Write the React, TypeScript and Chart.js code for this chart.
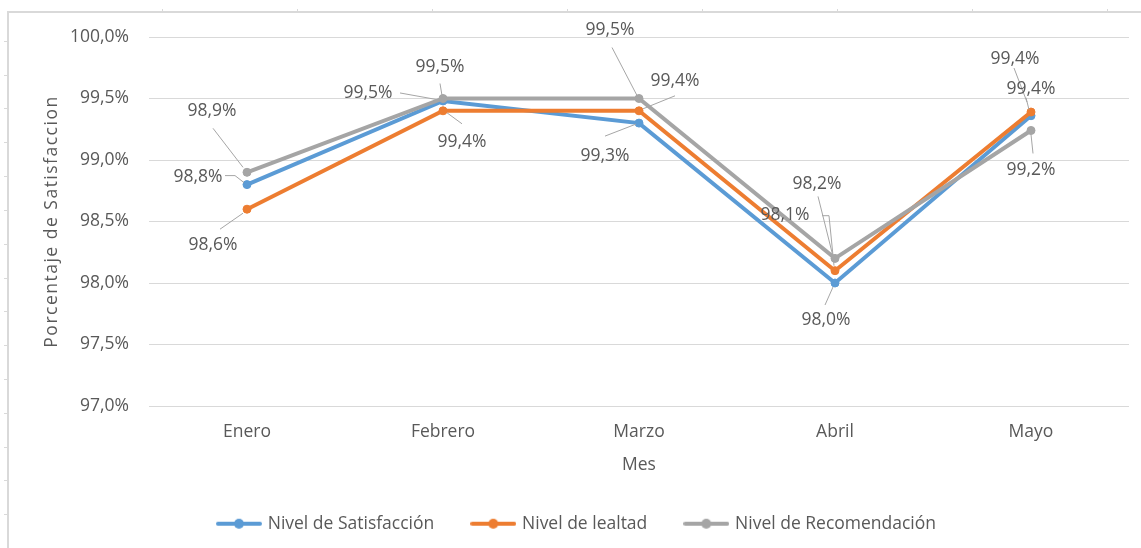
import React, { useEffect, useRef } from "react";
import { Chart, registerables } from "chart.js";

Chart.register(...registerables);

const months = ["Enero", "Febrero", "Marzo", "Abril", "Mayo"];
const seriesNames = ["Nivel de Satisfacción", "Nivel de lealtad", "Nivel de Recomendación"];
const satisfaccion = [98.8, 99.48, 99.3, 98.0, 99.36];
const lealtad = [98.6, 99.4, 99.4, 98.1, 99.39];
const recomendacion = [98.9, 99.5, 99.5, 98.2, 99.24];
const yTicks = [97.0, 97.5, 98.0, 98.5, 99.0, 99.5, 100.0];
const yTitle = "Porcentaje de Satisfaccion";
const xTitle = "Mes";

const COLORS = ["#5B9BD5", "#ED7D31", "#A5A5A5"];
const TEXT = "#595959";
const FONT = "'Open Sans', 'Liberation Sans', sans-serif";
const FS = 17.5;

// label layout (styling): text centre offset [dx, dy] and leader polyline offsets, relative to the point
type LabelLayout = { t: [number, number]; l?: [number, number][] };
const labelLayouts: LabelLayout[][] = [
  [
    { t: [-49, -8], l: [[-22, -9], [-12, -9], [-3, -2]] },
    { t: [-75, -8], l: [[-43, -8], [-4, -1]] },
    { t: [-34, 33], l: [[-34, 13], [-3, 1]] },
    { t: [-9, 37], l: [[-10, 22], [-2, 4]] },
    { t: [0, -27], l: [[-5, -18], [-2, -6]] },
  ],
  [
    { t: [-34, 36], l: [[-27, 20], [-4, 4]] },
    { t: [19, 31], l: [[19, 13], [4, 2]] },
    { t: [36, -30], l: [[36, -15], [4, -2]] },
    { t: [-50, -56], l: [[-13, -55], [-6, -55], [-1, -5]] },
    { t: [-16, -53], l: [[-17, -44], [-4, -10]] },
  ],
  [
    { t: [-35, -61], l: [[-34, -44], [-4, -5]] },
    { t: [-3, -31], l: [[-3, -15], [-1, -3]] },
    { t: [-29, -68], l: [[-27, -51], [-2, -3]] },
    { t: [-18, -74], l: [[-17, -62], [-2, -2]] },
    { t: [0, 40], l: [[2, 23], [0, 4]] },
  ],
];

const fmt = (v: number) => v.toFixed(1).replace(".", ",") + "%";

const frameColor = "#d9d9d9";
const frameX = 8;
const frameY = 12;
const rowStep = 33.8;
const rowStart = 40.9;
const colStep = 135;
const colStart = 161.6;

const framePlugin = {
  id: "frame",
  beforeDraw(chart: any) {
    const ctx = chart.ctx as CanvasRenderingContext2D;
    const w = chart.width;
    const h = chart.height;
    ctx.save();
    ctx.fillStyle = "#ffffff";
    ctx.fillRect(0, 0, w, h);
    ctx.strokeStyle = frameColor;
    ctx.lineWidth = 2;
    ctx.beginPath();
    ctx.moveTo(frameX, h);
    ctx.lineTo(frameX, frameY);
    ctx.lineTo(w, frameY);
    ctx.stroke();
    ctx.lineWidth = 1;
    ctx.beginPath();
    for (let y = rowStart; y < h; y += rowStep) {
      ctx.moveTo(frameX - 4, Math.round(y) + 0.5);
      ctx.lineTo(frameX, Math.round(y) + 0.5);
    }
    for (let x = colStart; x < w; x += colStep) {
      ctx.moveTo(Math.round(x) + 0.5, frameY - 3);
      ctx.lineTo(Math.round(x) + 0.5, frameY);
    }
    ctx.stroke();
    ctx.restore();
  },
  afterDraw(chart: any) {
    // y-axis title, drawn with Excel-like letter spacing
    const ctx = chart.ctx as any;
    const area = chart.chartArea;
    ctx.save();
    ctx.translate(52, (area.top + area.bottom) / 2);
    ctx.rotate(-Math.PI / 2);
    ctx.font = `${FS}px ${FONT}`;
    ctx.letterSpacing = "1.5px";
    ctx.fillStyle = TEXT;
    ctx.textAlign = "center";
    ctx.textBaseline = "middle";
    ctx.fillText(yTitle, 0, 0);
    ctx.restore();
  },
};

const labelPlugin = {
  id: "leaderLabels",
  afterDatasetsDraw(chart: any) {
    const ctx = chart.ctx as CanvasRenderingContext2D;
    ctx.save();
    chart.data.datasets.forEach((ds: any, di: number) => {
      const meta = chart.getDatasetMeta(di);
      meta.data.forEach((pt: any, i: number) => {
        const lay = labelLayouts[di][i];
        const px = pt.x;
        const py = pt.y;
        if (lay.l) {
          ctx.strokeStyle = "#a6a6a6";
          ctx.lineWidth = 1;
          ctx.beginPath();
          lay.l.forEach(([lx, ly], k) => {
            if (k === 0) ctx.moveTo(px + lx, py + ly);
            else ctx.lineTo(px + lx, py + ly);
          });
          ctx.stroke();
        }
      });
    });
    chart.data.datasets.forEach((ds: any, di: number) => {
      const meta = chart.getDatasetMeta(di);
      meta.data.forEach((pt: any, i: number) => {
        const lay = labelLayouts[di][i];
        ctx.font = `${FS}px ${FONT}`;
        ctx.fillStyle = TEXT;
        ctx.textAlign = "center";
        ctx.textBaseline = "middle";
        ctx.fillText(fmt(ds.data[i]), pt.x + lay.t[0], pt.y + lay.t[1]);
      });
    });
    ctx.restore();
  },
};

function makeLegendImage(color: string): HTMLCanvasElement {
  const c = document.createElement("canvas");
  c.width = 46;
  c.height = 12;
  const g = c.getContext("2d")!;
  g.strokeStyle = color;
  g.lineWidth = 4;
  g.lineCap = "round";
  g.beginPath();
  g.moveTo(2, 6);
  g.lineTo(44, 6);
  g.stroke();
  g.fillStyle = color;
  g.beginPath();
  g.arc(23, 6, 5, 0, Math.PI * 2);
  g.fill();
  return c;
}

export default function App() {
  const ref = useRef<HTMLCanvasElement | null>(null);

  useEffect(() => {
    if (!ref.current) return;
    const images = COLORS.map(makeLegendImage);
    const values = [satisfaccion, lealtad, recomendacion];
    const chart = new Chart(ref.current, {
      type: "line",
      data: {
        labels: months,
        datasets: values.map((d, i) => ({
          label: seriesNames[i],
          data: d,
          borderColor: COLORS[i],
          backgroundColor: COLORS[i],
          pointBackgroundColor: COLORS[i],
          pointBorderColor: COLORS[i],
          borderWidth: 4,
          pointRadius: 4,
          pointBorderWidth: 1,
          tension: 0,
          order: 2 - i,
        })),
      },
      options: {
        responsive: false,
        animation: false,
        layout: { padding: { left: 26, right: 12, top: 37, bottom: 5.5 } },
        scales: {
          x: {
            offset: true,
            grid: { display: false, drawTicks: false },
            border: { display: false },
            ticks: { color: TEXT, font: { family: FONT, size: FS }, padding: 16 },
            title: {
              display: true,
              text: xTitle,
              color: TEXT,
              font: { family: FONT, size: FS },
              padding: { top: 0, bottom: 0 },
            },
            afterFit(scale: any) {
              scale.height = 70;
            },
          },
          y: {
            min: 97,
            max: 100,
            afterBuildTicks(scale: any) {
              scale.ticks = yTicks.map((v) => ({ value: v }));
            },
            grid: { color: "#d9d9d9", lineWidth: 1, drawTicks: false },
            border: { display: false },
            ticks: {
              color: TEXT,
              font: { family: FONT, size: FS },
              padding: 20,
              callback: (v: any) => fmt(Number(v)),
            },
            title: { display: false },
            afterFit(scale: any) {
              scale.width = 123;
            },
          },
        },
        plugins: {
          legend: {
            position: "bottom",
            labels: {
              color: TEXT,
              font: { family: FONT, size: FS },
              usePointStyle: true,
              pointStyleWidth: 40,
              padding: 39,
              sort: (a: any, b: any) => a.datasetIndex - b.datasetIndex,
              generateLabels(chart: any) {
                const items = Chart.defaults.plugins.legend.labels.generateLabels(chart);
                return items.map((it: any) => ({ ...it, pointStyle: images[it.datasetIndex] }));
              },
            },
          },
          tooltip: { enabled: false },
        },
      },
      plugins: [framePlugin, labelPlugin],
    } as any);
    return () => chart.destroy();
  }, []);

  return (
    <div style={{ position: "absolute", left: 0, top: 0, width: 1141, height: 548 }}>
      <canvas ref={ref} width={1141} height={548} style={{ width: 1141, height: 548 }} />
    </div>
  );
}
